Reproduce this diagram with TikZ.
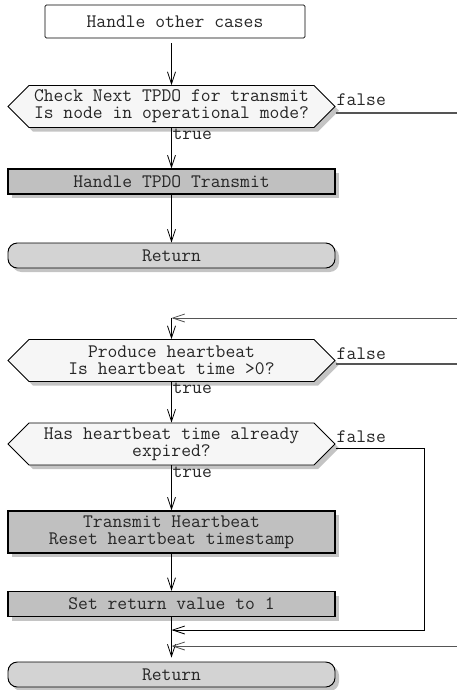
\documentclass[tikz,border=0pt]{standalone}
\usetikzlibrary{arrows.meta,shapes.symbols,shadows}
\definecolor{procgray}{RGB}{192,192,192}
\definecolor{termgray}{RGB}{211,211,211}
\definecolor{decgray}{RGB}{246,246,246}
\definecolor{shadegray}{RGB}{196,196,196}
\definecolor{linkgray}{RGB}{85,85,85}
\begin{document}
\begin{tikzpicture}[x=0.75pt,y=0.75pt,yscale=-1,xscale=1,
        every node/.style={font=\ttfamily\fontsize{14.3}{12.8}\selectfont, text=black!85},
        shadowed/.style={drop shadow={shadow xshift=3pt,shadow yshift=-3pt,fill=shadegray,opacity=1}},
        firstbox/.style={draw, rounded corners=1pt, fill=white, line width=0.6pt, minimum width=195pt, minimum height=24.75pt},
        decision/.style={shape=signal, signal to=west and east, signal pointer angle=90, draw, line width=0.7pt, fill=decgray, shadowed, minimum width=245.25pt, minimum height=31.5pt, inner sep=0pt, align=center},
        process/.style={draw, line width=0.8pt, fill=procgray, shadowed, minimum width=245.25pt, minimum height=18.75pt, align=center},
        terminal/.style={draw, line width=0.7pt, fill=termgray, shadowed, rounded corners=7pt, minimum width=245.25pt, minimum height=18.75pt},
        flow/.style={-{Straight Barb[length=9pt,width=6pt]}, line width=0.6pt},
        offpage/.style={draw=linkgray, line width=1.1pt},
        branchlabel/.style={inner sep=0.6pt}
        ]
        \useasboundingbox (0,0) rectangle (457,690);

        % Upper part: TPDO
        \node[firstbox] (other) at (175,21.5) {Handle other cases};
        \node[decision] (dec1) at (171.5,106.5) {Check Next TPDO for transmit\\Is node in operational mode?};
        \node[process] (tpdo) at (171.5,181.5) {Handle TPDO Transmit};
        \node[terminal] (ret1) at (171.5,255.5) {Return};

        \coordinate (s1) at (171.5,43);
        \draw[flow] (s1) -- (dec1.north);
        \draw[flow] (dec1.south) -- (tpdo.north);
        \draw[flow] (tpdo.south) -- (ret1.north);

        % Text Node
        \node[branchlabel, anchor=north west] (t1) at (dec1.south) {true};
        \node[branchlabel, anchor=south west] (f1) at (dec1.east) {false};
        \coordinate (out1) at (457,113);
        \draw[offpage] (dec1.east |- out1) -- (out1);

        % Lower part: heartbeat
        \node[decision] (dec2) at (171.5,360.5) {Produce heartbeat\\Is heartbeat time >0?};
        \node[decision] (dec3) at (171.5,444) {Has heartbeat time already\\expired?};
        \node[process, minimum height=31.5pt] (hb) at (171.5,532) {Transmit Heartbeat\\Reset heartbeat timestamp};
        \node[process] (one) at (171.5,604) {Set return value to 1};
        \node[terminal] (ret2) at (171.5,674.5) {Return};

        \coordinate (in1) at (457,318);
        \draw[offpage, flow] (in1) -- (dec2.north |- in1);
        \draw[flow] (dec2.north |- in1) -- (dec2.north);
        \draw[flow] (dec2.south) -- (dec3.north);
        \draw[flow] (dec3.south) -- (hb.north);
        \draw[flow] (hb.south) -- (one.north);
        \draw[flow, shorten >=3pt] (one.south) -- (ret2.north);

        % Text Node
        \node[branchlabel, anchor=north west] (t2) at (dec2.south) {true};
        \node[branchlabel, anchor=south west] (f2) at (dec2.east) {false};
        \node[branchlabel, anchor=north west] (t3) at (dec3.south) {true};
        \node[branchlabel, anchor=south west] (f3) at (dec3.east) {false};

        \coordinate (out2) at (457,364);
        \draw[offpage] (dec2.east |- out2) -- (out2);

        % false branch of the expiry check
        \coordinate (m1) at (424,448);
        \coordinate (m2) at (424,630);
        \draw[flow] (dec3.east |- m1) -- (m1) -- (m2) -- (one.south |- m2);

        \coordinate (in2) at (457,646);
        \draw[offpage, flow] (in2) -- (one.south |- in2);
\end{tikzpicture}
\end{document}
